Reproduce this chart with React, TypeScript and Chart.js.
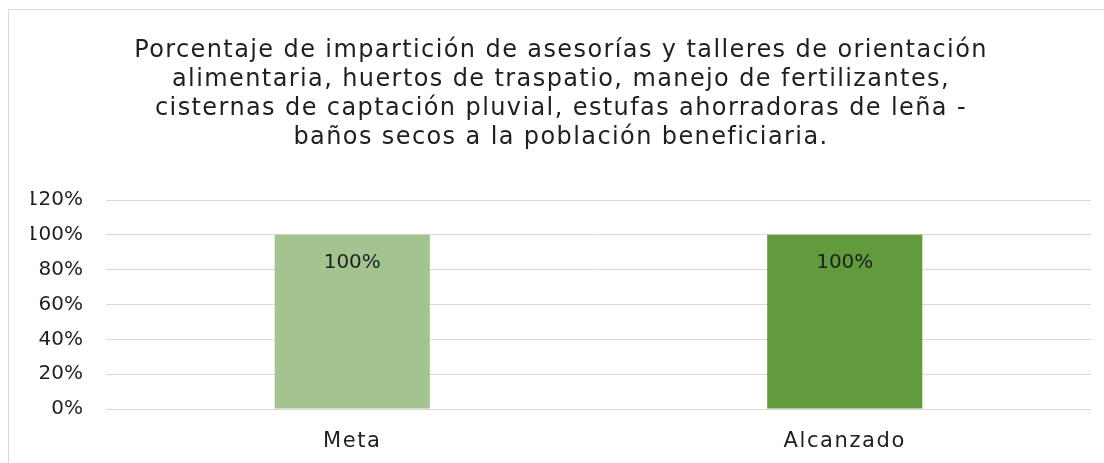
import React, { useEffect, useRef } from "react";
import { Chart, registerables } from "chart.js";

Chart.register(...registerables);

const titleLines = [
  "Porcentaje de impartición de asesorías y talleres de orientación",
  "alimentaria, huertos de traspatio, manejo de fertilizantes,",
  "cisternas de captación pluvial, estufas ahorradoras de leña -",
  "baños secos a la población beneficiaria.",
];
const categories = ["Meta", "Alcanzado"];
const values = [100, 100];
const barColors = ["#A3C490", "#629A3E"];
const yMax = 120;
const yStep = 20;

const FONT = "'DejaVu Sans', sans-serif";
const TEXT = "#1f1f1f";

const textPlugin = {
  id: "customTexts",
  beforeDraw(chart: any) {
    (chart.ctx as any).letterSpacing = "0px";
  },
  afterDraw(chart: any) {
    const ctx = chart.ctx;
    const area = chart.chartArea;
    ctx.save();
    ctx.fillStyle = TEXT;
    ctx.textAlign = "center";
    ctx.textBaseline = "alphabetic";

    // title
    ctx.font = `24px ${FONT}`;
    (ctx as any).letterSpacing = "1.4px";
    const cx = (area.left - 75 + area.right) / 2;
    titleLines.forEach((line, i) => {
      ctx.fillText(line, cx, 47 + i * 29);
    });

    // category labels
    ctx.font = `21px ${FONT}`;
    (ctx as any).letterSpacing = "1.6px";
    const xs = chart.scales.x;
    categories.forEach((c, i) => {
      ctx.fillText(c, xs.getPixelForTick(i), area.bottom + 38);
    });

    // value labels
    ctx.font = `20px ${FONT}`;
    (ctx as any).letterSpacing = "0px";
    const meta = chart.getDatasetMeta(0);
    meta.data.forEach((bar: any, i: number) => {
      const v = chart.data.datasets[0].data[i];
      ctx.fillText(`${v}%`, bar.x, bar.y + 33);
    });
    (ctx as any).letterSpacing = "0px";
    ctx.restore();
    (ctx as any).letterSpacing = "0px";
  },
};

export default function App() {
  const ref = useRef<HTMLCanvasElement>(null);
  useEffect(() => {
    if (!ref.current) return;
    const chart = new Chart(ref.current, {
      type: "bar",
      data: {
        labels: categories,
        datasets: [
          {
            data: values,
            backgroundColor: barColors,
            barPercentage: 0.315,
            categoryPercentage: 1,
          },
        ],
      },
      options: {
        responsive: false,
        animation: false,
        devicePixelRatio: 1,
        layout: { padding: { left: 22, right: 13, top: 190, bottom: 0 } },
        plugins: {
          legend: { display: false },
          tooltip: { enabled: false },
          title: { display: false },
        },
        scales: {
          x: {
            grid: { display: false },
            border: { display: false },
            ticks: { display: false },
            afterFit: (s: any) => {
              s.height = 54;
            },
          },
          y: {
            min: 0,
            max: yMax,
            ticks: {
              stepSize: yStep,
              color: TEXT,
              font: { family: FONT, size: 20 },
              padding: 23,
              callback: (v: any) => `${v}%`,
            },
            grid: { color: "#D9D9D9", lineWidth: 1, drawTicks: false },
            border: { display: false },
            afterFit: (s: any) => {
              s.width = 75;
            },
          },
        },
      },
      plugins: [textPlugin],
    });
    return () => chart.destroy();
  }, []);
  return (
    <div
      style={{
        position: "absolute",
        left: 8,
        top: 9,
        width: 1096,
        height: 454,
        borderTop: "1px solid #D9D9D9",
        borderLeft: "1px solid #D9D9D9",
        background: "#fff",
        boxSizing: "border-box",
      }}
    >
      <canvas ref={ref} width={1095} height={453} style={{ display: "block" }} />
    </div>
  );
}
